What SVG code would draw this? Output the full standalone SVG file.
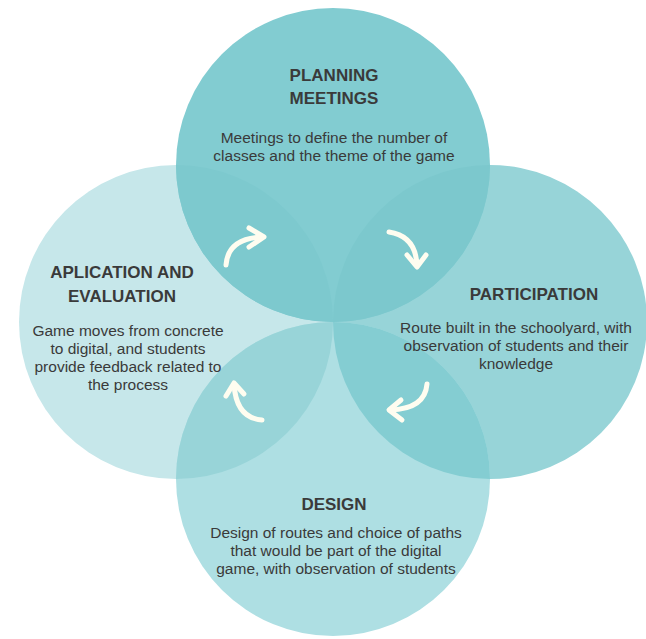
<svg xmlns="http://www.w3.org/2000/svg" width="646" height="639" viewBox="0 0 646 639">
<style>
.title{font-family:"Liberation Sans",Arial,sans-serif;font-weight:bold;font-size:17px;fill:#3a3a3a;text-anchor:middle}
.body{font-family:"Liberation Sans",Arial,sans-serif;font-size:15.5px;fill:#3a3a3a;text-anchor:middle}
.arrow{fill:none;stroke:#fffdf0;stroke-width:5;stroke-linecap:round;stroke-linejoin:round}
</style>
<defs>
<clipPath id="cTop"><circle cx="333" cy="165" r="157"/></clipPath>
<clipPath id="cBottom"><circle cx="333" cy="479" r="157"/></clipPath>
</defs>
<rect width="646" height="639" fill="#ffffff"/>
<g id="circles">
<circle cx="176" cy="322" r="157" fill="#c6e7ea"/>
<circle cx="490" cy="322" r="157" fill="#97d4d8"/>
<circle cx="333" cy="479" r="157" fill="#aedfe3"/>
<circle cx="333" cy="165" r="157" fill="#82ccd1"/>
<g clip-path="url(#cTop)">
<circle cx="176" cy="322" r="157" fill="#7dc9ce"/>
<circle cx="490" cy="322" r="157" fill="#7cc8cd"/>
</g>
<g clip-path="url(#cBottom)">
<circle cx="176" cy="322" r="157" fill="#98d4d8"/>
<circle cx="490" cy="322" r="157" fill="#84cdd2"/>
</g>
</g>
<g id="node-planning">
<text class="title" x="334" y="81">PLANNING</text>
<text class="title" x="334" y="104">MEETINGS</text>
<text class="body" x="334" y="143">Meetings to define the number of</text>
<text class="body" x="334" y="161">classes and the theme of the game</text>
</g>
<g id="node-participation">
<text class="title" x="534" y="300">PARTICIPATION</text>
<text class="body" x="516" y="333">Route built in the schoolyard, with</text>
<text class="body" x="516" y="351">observation of students and their</text>
<text class="body" x="516" y="369">knowledge</text>
</g>
<g id="node-design">
<text class="title" x="334" y="510">DESIGN</text>
<text class="body" x="336" y="538">Design of routes and choice of paths</text>
<text class="body" x="336" y="556">that would be part of the digital</text>
<text class="body" x="336" y="574">game, with observation of students</text>
</g>
<g id="node-aplication">
<text class="title" x="122" y="278">APLICATION AND</text>
<text class="title" x="122" y="302">EVALUATION</text>
<text class="body" x="128" y="336">Game moves from concrete</text>
<text class="body" x="128" y="354">to digital, and students</text>
<text class="body" x="128" y="372">provide feedback related to</text>
<text class="body" x="128" y="390">the process</text>
</g>
<g id="connectors">
<path class="arrow" d="M226,265 Q228,238 263,237"/>
<path class="arrow" d="M249,228 L264,237 L249,247"/>
<path class="arrow" d="M389,232 Q416,236 417,266"/>
<path class="arrow" d="M407,255 L417,267 L426,255"/>
<path class="arrow" d="M427,384 Q425,409 390,410"/>
<path class="arrow" d="M401,400 L389,410 L402,420"/>
<path class="arrow" d="M262,420 Q236,418 234,384"/>
<path class="arrow" d="M226,396 L234,383 L244,394"/>
</g>
</svg>
